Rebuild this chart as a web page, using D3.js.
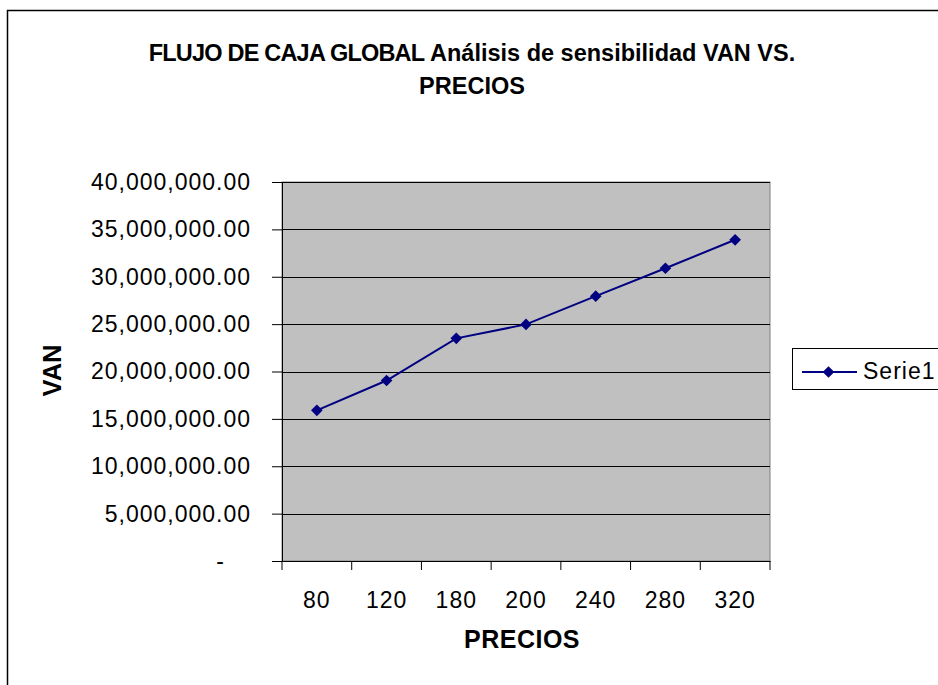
<!DOCTYPE html>
<html><head><meta charset="utf-8">
<script src="https://cdn.jsdelivr.net/npm/d3@7"></script>
<style>body{margin:0;background:#fff}svg{display:block}text{font-family:Arial,"Liberation Sans",sans-serif}</style>
</head><body>
<script>
const categories = ["80","120","180","200","240","280","320"];
const values = [15900000, 19050000, 23500000, 24970000, 27950000, 30900000, 33900000];
const yTicks = [0,5000000,10000000,15000000,20000000,25000000,30000000,35000000,40000000];
const seriesName = "Serie1";
const titleParts = ["FLUJO DE CAJA GLOBAL", " Análisis de sensibilidad VAN VS."];
const titleLine2 = "PRECIOS";
const xTitle = "PRECIOS";
const yTitle = "VAN";

const W=938,H=685;
const FONT="Arial, 'Liberation Sans', sans-serif";
const svg=d3.select("body").append("svg").attr("width",W).attr("height",H);
svg.append("rect").attr("x",7.5).attr("y",10.5).attr("width",W).attr("height",H).attr("fill","#fff").attr("stroke","#000").attr("stroke-width",1.5);

const L=282,T=182,R=770,B=561;
const x=d3.scaleBand().domain(categories).range([L,R]);
const y=d3.scaleLinear().domain([0,40000000]).range([B,T]);

svg.append("rect").attr("x",L).attr("y",T).attr("width",R-L).attr("height",B-T).attr("fill","#c0c0c0").attr("stroke","#808080").attr("stroke-width",1);

svg.append("g").selectAll("line").data(yTicks.slice(1)).join("line")
 .attr("x1",L).attr("x2",R).attr("y1",d=>Math.round(y(d))+0.5).attr("y2",d=>Math.round(y(d))+0.5)
 .attr("stroke","#000").attr("stroke-width",1);

const fmt=d=>d===0?"-":d3.format(",.2f")(d);
const ya=svg.append("g").attr("transform",`translate(${L},0)`)
 .call(d3.axisLeft(y).tickValues(yTicks).tickFormat(fmt).tickSize(10).tickPadding(21));
ya.selectAll("text").attr("font-size",23).attr("letter-spacing",1).attr("fill","#000").attr("font-family",FONT);
ya.selectAll("text").filter(d=>d===0).attr("dx",-26);
ya.selectAll("line,path").attr("stroke","#000");

const xa=svg.append("g").attr("transform",`translate(0,${B})`)
 .call(d3.axisBottom(x).tickSize(0).tickPadding(31));
xa.selectAll("text").attr("font-size",23).attr("letter-spacing",1).attr("fill","#000").attr("font-family",FONT);
xa.select("path").attr("stroke","#000");
const bounds=categories.map(c=>x(c)).concat([R]);
xa.selectAll(".bt").data(bounds).join("line").attr("class","bt")
 .attr("x1",d=>d).attr("x2",d=>d).attr("y1",0).attr("y2",9).attr("stroke","#000");

const cx=(i)=>x(categories[i])+x.bandwidth()/2;
const line=d3.line().x((d,i)=>cx(i)).y(d=>y(d));
svg.append("path").datum(values).attr("d",line).attr("fill","none").attr("stroke","#000080").attr("stroke-width",2);
svg.append("g").selectAll("path").data(values).join("path")
 .attr("d",d3.symbol().type(d3.symbolSquare).size(68))
 .attr("transform",(d,i)=>`translate(${cx(i)},${y(d)}) rotate(45)`)
 .attr("fill","#000080");

const t1=svg.append("text").attr("x",472).attr("y",61).attr("text-anchor","middle").attr("font-size",23.5).attr("font-weight","bold");
t1.append("tspan").attr("letter-spacing",-0.8).text(titleParts[0]);
t1.append("tspan").attr("letter-spacing",0).text(titleParts[1]);
svg.append("text").attr("x",472).attr("y",94).attr("text-anchor","middle").attr("font-size",23.5).attr("font-weight","bold").text(titleLine2);
svg.append("text").attr("x",522).attr("y",648).attr("text-anchor","middle").attr("font-size",25).attr("letter-spacing",0.5).attr("font-weight","bold").text(xTitle);
svg.append("text").attr("transform","translate(61,370.5) rotate(-90)").attr("text-anchor","middle").attr("font-size",25.5).attr("font-weight","bold").text(yTitle);

const lg=svg.append("g");
lg.append("rect").attr("x",792.5).attr("y",348.5).attr("width",160).attr("height",41).attr("fill","#fff").attr("stroke","#000");
lg.append("line").attr("x1",802).attr("x2",857).attr("y1",372).attr("y2",372).attr("stroke","#000080").attr("stroke-width",2);
lg.append("path").attr("d",d3.symbol().type(d3.symbolSquare).size(68)).attr("transform","translate(828.5,372) rotate(45)").attr("fill","#000080");
lg.append("text").attr("x",863).attr("y",378.5).attr("font-size",23).attr("letter-spacing",1).text(seriesName);
</script>
</body></html>
